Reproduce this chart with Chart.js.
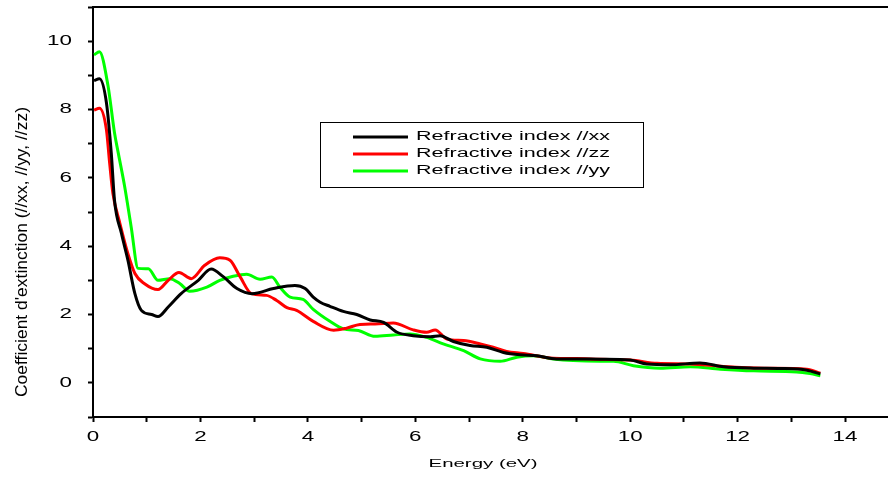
<!DOCTYPE html>
<html>
<head>
<meta charset="utf-8">
<script src="https://cdn.jsdelivr.net/npm/chart.js@4.4.1/dist/chart.umd.min.js"></script>
<style>
  html, body { margin: 0; padding: 0; background: #fff; }
  #wrap { width: 888px; height: 477px; }
</style>
</head>
<body>
<div id="wrap"><canvas id="grafica" width="888" height="477"></canvas></div>
<script>
// Datos (energia en eV)
const energiaXX = [0.02, 0.12, 0.25, 0.34, 0.40, 0.53, 0.65, 0.78, 0.90, 1.09, 1.21, 1.40, 1.64, 1.96, 2.20, 2.43, 2.68, 2.96, 3.36, 3.76, 3.95, 4.10, 4.23, 4.41, 4.66, 4.91, 5.16, 5.41, 5.66, 5.96, 6.28, 6.46, 6.71, 7.02, 7.33, 7.64, 7.95, 8.26, 8.63, 9.00, 9.44, 10.0, 10.31, 10.75, 11.30, 11.74, 12.30, 12.80, 13.29, 13.54];
const valoresXX = [8.85, 8.90, 8.20, 6.73, 5.35, 4.37, 3.59, 2.61, 2.12, 2.00, 1.94, 2.22, 2.61, 3.00, 3.33, 3.10, 2.76, 2.61, 2.76, 2.85, 2.76, 2.51, 2.36, 2.24, 2.09, 2.00, 1.84, 1.77, 1.48, 1.38, 1.35, 1.38, 1.21, 1.09, 1.04, 0.89, 0.82, 0.79, 0.70, 0.70, 0.69, 0.67, 0.55, 0.53, 0.58, 0.47, 0.43, 0.42, 0.37, 0.26];

const energiaZZ = [0.02, 0.12, 0.25, 0.31, 0.37, 0.50, 0.65, 0.78, 0.96, 1.21, 1.40, 1.60, 1.83, 2.08, 2.36, 2.55, 2.74, 2.95, 3.23, 3.42, 3.61, 3.79, 4.10, 4.48, 4.72, 4.97, 5.25, 5.59, 5.96, 6.21, 6.37, 6.59, 6.90, 7.21, 7.45, 7.70, 8.01, 8.57, 9.00, 9.44, 10.0, 10.50, 11.12, 11.74, 12.50, 13.29, 13.54];
const valoresZZ = [7.98, 8.04, 7.41, 6.43, 5.55, 4.67, 3.78, 3.20, 2.90, 2.73, 3.00, 3.23, 3.05, 3.44, 3.66, 3.59, 3.10, 2.61, 2.56, 2.41, 2.20, 2.12, 1.80, 1.54, 1.60, 1.71, 1.72, 1.75, 1.55, 1.48, 1.55, 1.28, 1.24, 1.14, 1.04, 0.92, 0.86, 0.72, 0.71, 0.69, 0.67, 0.57, 0.55, 0.48, 0.43, 0.40, 0.28];

const energiaYY = [0.02, 0.12, 0.28, 0.40, 0.47, 0.59, 0.71, 0.84, 1.03, 1.21, 1.43, 1.62, 1.80, 2.12, 2.36, 2.61, 2.86, 3.11, 3.33, 3.48, 3.67, 3.91, 4.10, 4.41, 4.66, 4.94, 5.25, 5.59, 5.90, 6.21, 6.52, 6.90, 7.21, 7.58, 7.89, 8.20, 8.57, 8.94, 9.44, 9.69, 10.06, 10.56, 11.12, 11.68, 12.30, 13.10, 13.35, 13.54];
const valoresYY = [9.60, 9.69, 8.69, 7.32, 6.73, 5.74, 4.57, 3.35, 3.34, 3.00, 3.05, 2.90, 2.68, 2.80, 3.00, 3.12, 3.18, 3.03, 3.10, 2.80, 2.51, 2.44, 2.15, 1.80, 1.58, 1.53, 1.36, 1.40, 1.43, 1.33, 1.14, 0.94, 0.70, 0.63, 0.75, 0.79, 0.70, 0.65, 0.63, 0.63, 0.50, 0.43, 0.47, 0.40, 0.35, 0.32, 0.27, 0.21];

const etiquetasX = [0, 2, 4, 6, 8, 10, 12, 14];
const etiquetasY = [0, 2, 4, 6, 8, 10];

function puntos(ex, vals) {
  return ex.map((e, i) => ({ x: e, y: vals[i] }));
}

// texto estirado horizontalmente como en la figura original
function texto(ctx, t, x, y, size, sx, align, familia) {
  ctx.save();
  ctx.font = size + 'px ' + (familia || '"Liberation Sans", Arial, sans-serif');
  ctx.fillStyle = '#000';
  ctx.textAlign = align || 'center';
  ctx.textBaseline = 'middle';
  ctx.translate(x, y);
  ctx.scale(sx, 1);
  ctx.fillText(t, 0, 0);
  ctx.restore();
}

const extras = {
  id: 'extras',
  afterDraw(chart) {
    const ctx = chart.ctx;
    const area = chart.chartArea;
    const sx = chart.scales.x, sy = chart.scales.y;

    // linea superior del marco
    ctx.save();
    ctx.strokeStyle = '#000';
    ctx.lineWidth = 2;
    ctx.beginPath();
    ctx.moveTo(area.left - 1, area.top);
    ctx.lineTo(area.right, area.top);
    ctx.stroke();
    ctx.restore();

    etiquetasX.forEach(v => texto(ctx, String(v), sx.getPixelForValue(v), 437, 14, 1.6, 'center'));
    etiquetasY.forEach(v => texto(ctx, String(v), 72, sy.getPixelForValue(v), 14, 1.6, 'right'));

    // titulo eje x
    ctx.save();
    ctx.font = '11.6px "Liberation Sans", Arial, sans-serif';
    let w = ctx.measureText('Energy (eV)').width;
    ctx.restore();
    texto(ctx, 'Energy (eV)', 483, 464, 11.6, 109 / w, 'center');

    // titulo eje y (rotado)
    const tituloY = "Coefficient d'extinction (//xx, //yy, //zz)";
    ctx.save();
    ctx.font = '13px "Liberation Sans Narrow", "Liberation Sans", sans-serif';
    w = ctx.measureText(tituloY).width;
    ctx.fillStyle = '#000';
    ctx.textAlign = 'center';
    ctx.textBaseline = 'middle';
    ctx.translate(22, 252);
    ctx.rotate(-Math.PI / 2);
    ctx.scale(290 / w, 1.3);
    ctx.fillText(tituloY, 0, 0);
    ctx.restore();

    // leyenda
    ctx.save();
    ctx.strokeStyle = '#000';
    ctx.lineWidth = 1;
    ctx.strokeRect(320.5, 122.5, 323, 65);
    const filas = [137, 154, 171];
    chart.data.datasets.forEach((ds, i) => {
      ctx.strokeStyle = ds.borderColor;
      ctx.lineWidth = 3;
      ctx.beginPath();
      ctx.moveTo(353, filas[i]);
      ctx.lineTo(408, filas[i]);
      ctx.stroke();
      ctx.font = '12.5px "Liberation Sans", Arial, sans-serif';
      const tw = ctx.measureText(ds.label).width;
      texto(ctx, ds.label, 416, filas[i], 12.5, 194 / tw, 'left');
    });
    ctx.restore();
  }
};

new Chart(document.getElementById('grafica'), {
  type: 'line',
  data: {
    datasets: [
      { label: 'Refractive index //xx', data: puntos(energiaXX, valoresXX), borderColor: '#000000' },
      { label: 'Refractive index //zz', data: puntos(energiaZZ, valoresZZ), borderColor: '#ff0000' },
      { label: 'Refractive index //yy', data: puntos(energiaYY, valoresYY), borderColor: '#00ff00' }
    ].map(d => Object.assign(d, {
      borderWidth: 3,
      pointRadius: 0,
      fill: false,
      cubicInterpolationMode: 'monotone'
    }))
  },
  options: {
    responsive: false,
    animation: false,
    layout: { padding: { top: 7, right: 0, left: 0, bottom: 0 } },
    plugins: { legend: { display: false }, tooltip: { enabled: false } },
    scales: {
      x: {
        type: 'linear',
        min: 0,
        max: 14.8,
        ticks: { stepSize: 1, display: false, includeBounds: false },
        grid: { drawOnChartArea: false, drawTicks: true, tickLength: 5, tickWidth: 2, tickColor: '#000' },
        border: { color: '#000', width: 2 },
        afterFit(s) { s.height = 60; }
      },
      y: {
        min: -1,
        max: 11,
        ticks: { stepSize: 1, display: false },
        grid: { drawOnChartArea: false, drawTicks: true, tickLength: 5, tickWidth: 2, tickColor: '#000' },
        border: { color: '#000', width: 2 },
        afterFit(s) { s.width = 93; }
      }
    }
  },
  plugins: [extras]
});
</script>
</body>
</html>
